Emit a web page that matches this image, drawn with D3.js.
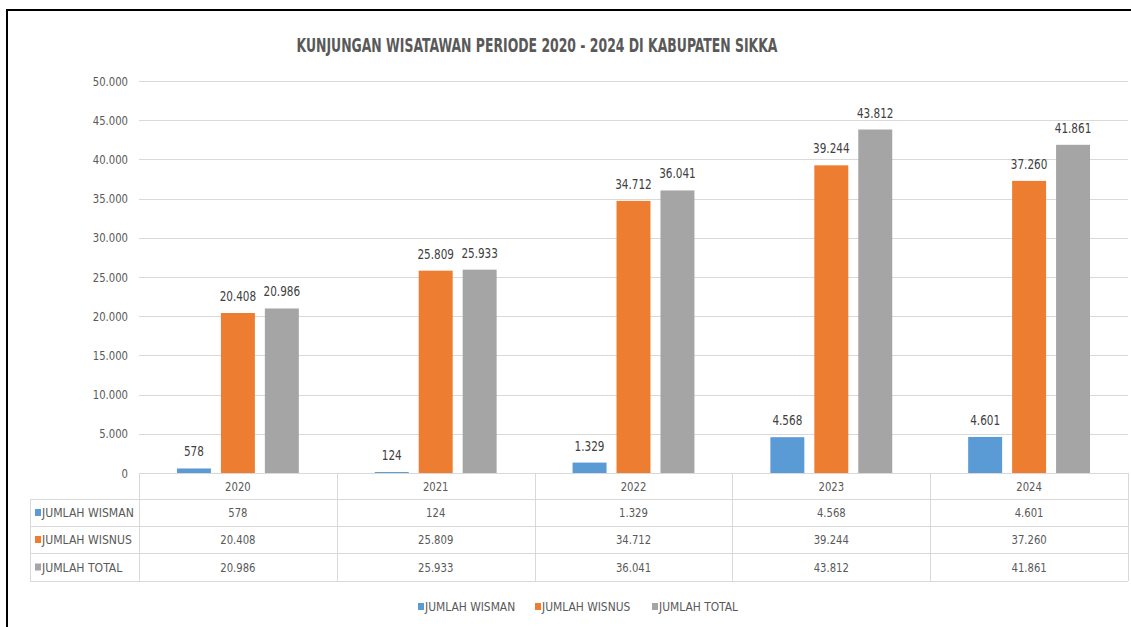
<!DOCTYPE html>
<html>
<head>
<meta charset="utf-8">
<script src="https://cdn.jsdelivr.net/npm/d3@7"></script>
<style>
html,body{margin:0;padding:0;background:#fff;}
svg{display:block;}
text{font-family:"DejaVu Sans Condensed","Liberation Sans Narrow","Open Sans",sans-serif;}
</style>
</head>
<body>
<svg id="chart" width="1131" height="627"></svg>
<script>
const title = "KUNJUNGAN WISATAWAN PERIODE 2020 - 2024 DI KABUPATEN SIKKA";
const years = ["2020", "2021", "2022", "2023", "2024"];
const seriesNames = ["JUMLAH WISMAN", "JUMLAH WISNUS", "JUMLAH TOTAL"];
const wisman = [578, 124, 1329, 4568, 4601];
const wisnus = [20408, 25809, 34712, 39244, 37260];
const total = [20986, 25933, 36041, 43812, 41861];
const yTicks = [0, 5000, 10000, 15000, 20000, 25000, 30000, 35000, 40000, 45000, 50000];
const colors = ["#5B9BD5", "#ED7D31", "#A5A5A5"];

const seriesValues = [wisman, wisnus, total];
const fmt = v => d3.format(",")(v).replace(/,/g, ".");

// horizontally condense text to mimic the narrow reference font
function squeeze(sel, f) {
  sel.each(function() {
    const L = this.getComputedTextLength();
    d3.select(this).attr("textLength", L * f).attr("lengthAdjust", "spacingAndGlyphs");
  });
}

const svg = d3.select("#chart");

// frame (top and left edges only)
svg.append("path").attr("d", "M7,627 V10 H1131").attr("fill", "none")
  .attr("stroke", "#000").attr("stroke-width", 2);

// title
svg.append("text").attr("x", 537).attr("y", 52).attr("text-anchor", "middle")
  .attr("font-size", 20).attr("font-weight", "bold").attr("fill", "#595959")
  .attr("textLength", 481).attr("lengthAdjust", "spacingAndGlyphs")
  .text(title);

const pLeft = 139, pRight = 1128, pTop = 81, pBottom = 473;
const x = d3.scaleBand().domain(years).range([pLeft, pRight]).paddingInner(0).paddingOuter(0);
const xs = d3.scaleBand().domain(seriesNames).range([0, x.bandwidth()]).paddingInner(10/44).paddingOuter(0.864);
const y = d3.scaleLinear().domain([0, 50000]).range([pBottom, pTop]);

// gridlines
svg.append("g").selectAll("line").data(yTicks.filter(t => t > 0)).join("line")
  .attr("x1", pLeft).attr("x2", pRight)
  .attr("y1", d => Math.round(y(d)) + 0.5).attr("y2", d => Math.round(y(d)) + 0.5)
  .attr("stroke", "#D9D9D9").attr("stroke-width", 1);

// y axis labels
const yl = svg.append("g").selectAll("text").data(yTicks).join("text")
  .attr("x", 128).attr("y", d => y(d) + 4.5).attr("text-anchor", "end")
  .attr("font-size", 13).attr("fill", "#595959")
  .text(d => fmt(d));
squeeze(yl, 0.86);

// bars
const flat = [];
seriesNames.forEach((s, si) => years.forEach((yr, i) => flat.push({s, si, yr, v: seriesValues[si][i]})));

svg.append("g").selectAll("rect").data(flat).join("rect")
  .attr("x", d => x(d.yr) + xs(d.s))
  .attr("width", xs.bandwidth())
  .attr("y", d => y(d.v))
  .attr("height", d => pBottom - y(d.v))
  .attr("fill", d => colors[d.si]);

// bar labels
const bl = svg.append("g").selectAll("text").data(flat).join("text")
  .attr("x", d => x(d.yr) + xs(d.s) + xs.bandwidth() / 2)
  .attr("y", d => y(d.v) - 12)
  .attr("text-anchor", "middle").attr("font-size", 13.5).attr("fill", "#404040")
  .text(d => fmt(d.v));
squeeze(bl, 0.86);

// data table
const rowH = [473, 499, 526, 553, 581];
const tableLeft = 30;
const tg = svg.append("g");
const lineColor = "#D9D9D9";
tg.append("line").attr("x1", pLeft).attr("x2", pRight).attr("y1", rowH[0] + 0.5).attr("y2", rowH[0] + 0.5).attr("stroke", lineColor);
rowH.slice(1).forEach(r => {
  tg.append("line").attr("x1", tableLeft).attr("x2", pRight).attr("y1", r + 0.5).attr("y2", r + 0.5).attr("stroke", lineColor);
});
tg.append("line").attr("x1", tableLeft + 0.5).attr("x2", tableLeft + 0.5).attr("y1", rowH[1]).attr("y2", rowH[4]).attr("stroke", lineColor);
const vx = years.map(yr => x(yr)).concat([pRight]);
vx.forEach(v => {
  tg.append("line").attr("x1", Math.round(v) + 0.5).attr("x2", Math.round(v) + 0.5).attr("y1", rowH[0]).attr("y2", rowH[4]).attr("stroke", lineColor);
});
const hy = tg.selectAll("text.yr").data(years).join("text").attr("class", "yr")
  .attr("x", d => x(d) + x.bandwidth() / 2).attr("y", (rowH[0] + rowH[1]) / 2 + 4.5)
  .attr("text-anchor", "middle").attr("font-size", 13).attr("fill", "#595959").text(d => d);
squeeze(hy, 0.86);
seriesNames.forEach((s, si) => {
  const cy = (rowH[si + 1] + rowH[si + 2]) / 2;
  tg.append("rect").attr("x", 35).attr("y", cy - 3.5).attr("width", 6).attr("height", 7).attr("fill", colors[si]);
  const rl = tg.append("text").attr("x", 42).attr("y", cy + 4.5).attr("font-size", 13).attr("fill", "#595959").text(s);
  squeeze(rl, 0.93);
  years.forEach((yr, i) => {
    const c = tg.append("text").attr("x", x(yr) + x.bandwidth() / 2).attr("y", cy + 4.5)
      .attr("text-anchor", "middle").attr("font-size", 13).attr("fill", "#595959")
      .text(fmt(seriesValues[si][i]));
    squeeze(c, 0.86);
  });
});

// legend
const legendX = [418, 535, 652];
const lg = svg.append("g");
seriesNames.forEach((s, i) => {
  lg.append("rect").attr("x", legendX[i]).attr("y", 603).attr("width", 6).attr("height", 7).attr("fill", colors[i]);
  const t = lg.append("text").attr("x", legendX[i] + 7).attr("y", 611).attr("font-size", 12.5).attr("fill", "#595959").text(s);
  squeeze(t, 0.95);
});
</script>
</body>
</html>
